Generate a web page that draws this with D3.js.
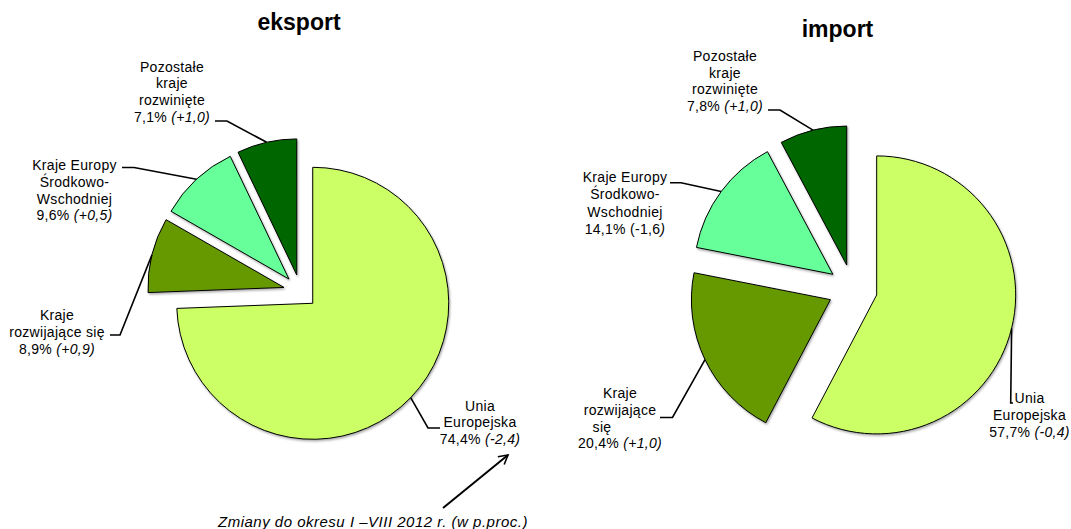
<!DOCTYPE html>
<html>
<head>
<meta charset="utf-8">
<title>eksport / import</title>
<script src="https://d3js.org/d3.v7.min.js"></script>
<style>
	body{ margin:0; background:#fff; }
	text{ font-family: "Liberation Sans", Arial, sans-serif; fill:#000; }
	.lbl{ font-size:14px; letter-spacing:0.3px; }
	.note{ font-size:15px; letter-spacing:0.5px; font-style:italic; }
	.ttl{ font-size:23px; font-weight:bold; }
</style>
</head>
<body>
<script>
	// data
	var categories = ["Unia Europejska", "Kraje rozwijające się", "Kraje Europy Środkowo-Wschodniej", "Pozostałe kraje rozwinięte"]
	var eksportShare  = [74.4, 8.9, 9.6, 7.1]
	var eksportChange = ["-2,4", "+0,9", "+0,5", "+1,0"]
	var importShare   = [57.7, 20.4, 14.1, 7.8]
	var importChange  = ["-0,4", "+1,0", "-1,6", "+1,0"]
	var colors = ["#CCFF66", "#669900", "#66FF99", "#006600"]
	var note = "Zmiany do okresu I –VIII 2012 r. (w p.proc.)"

	// label wrapping and placement for each chart (layout only)
	var eksportLabels = [
		{lines:["Unia","Europejska"], x:480, y:410.5, lead:[[440,428],[428,428]]},
		{lines:["Kraje","rozwijające się"], x:57, y:320, lead:[[110,335],[120,335]]},
		{lines:["Kraje Europy","Środkowo-","Wschodniej"], x:74.5, y:170, lead:[[122,167.5],[134,167.5]]},
		{lines:["Pozostałe","kraje","rozwinięte"], x:172, y:71.5, lead:[[215,121],[227,121]]}
	]
	var importLabels = [
		{lines:["Unia","Europejska"], x:1029.5, y:403.3, lead:[[1013,403],[1010.7,403]]},
		{lines:["Kraje","rozwijające","się"], x:620, y:398, lineX:{2:602}, lead:[[660,417.5],[672.5,417.5]]},
		{lines:["Kraje Europy","Środkowo-","Wschodniej"], x:625, y:181.5, lh:17.5, lead:[[670,182.7],[681,182.7]]},
		{lines:["Pozostałe","kraje","rozwinięte"], x:725, y:60.7, lead:[[768,110],[780,110]]}
	]

	var charts = [
		{title:"eksport", tx:299, ty:30, cx:300.5, cy:291.5, r:136, off:17, values:eksportShare, changes:eksportChange, labels:eksportLabels},
		{title:"import",  tx:837.5, ty:36.5, cx:852.7, cy:289, r:139, off:24.7, values:importShare, changes:importChange, labels:importLabels}
	]

	var W = 1071, H = 529
	var svg = d3.select("body").append("svg").attr("width", W).attr("height", H)

	var defs = svg.append("defs")
	defs.append("filter").attr("id","shadow").attr("x","-10%").attr("y","-10%").attr("width","130%").attr("height","130%")
		.append("feDropShadow").attr("dx",1).attr("dy",1.5).attr("stdDeviation",1).attr("flood-color","#000").attr("flood-opacity",0.35)
	defs.append("marker").attr("id","arrow").attr("viewBox","0 0 12 12").attr("refX",10).attr("refY",6)
		.attr("markerWidth",6).attr("markerHeight",6).attr("markerUnits","strokeWidth").attr("orient","auto")
		.append("path").attr("d","M1,1 L10,6 L1,11").attr("fill","none").attr("stroke","#000").attr("stroke-width",1.6)

	var fmt = function(v){ return d3.format(".1f")(v).replace(".", ",") }
	var pie = d3.pie().sort(null).value(function(d){ return d })

	charts.forEach(function(ch){
		var arcs = pie(ch.values)
		var arc = d3.arc().innerRadius(0).outerRadius(ch.r)
		var g = svg.append("g").attr("transform","translate("+ch.cx+","+ch.cy+")")

		svg.append("text").attr("class","ttl").attr("x",ch.tx).attr("y",ch.ty).attr("text-anchor","middle").text(ch.title)

		arcs.forEach(function(a, i){
			var mid = (a.startAngle + a.endAngle)/2
			var dx = Math.sin(mid)*ch.off, dy = -Math.cos(mid)*ch.off
			g.append("path").attr("d", arc(a)).attr("transform","translate("+dx+","+dy+")")
				.attr("fill", colors[i]).attr("stroke","#000").attr("stroke-width",1)
				.attr("stroke-linejoin","round").attr("filter","url(#shadow)")

			// leader line: label end -> elbow -> middle of the slice's arc
			var lab = ch.labels[i]
			var ex = ch.cx + dx + Math.sin(mid)*ch.r
			var ey = ch.cy + dy - Math.cos(mid)*ch.r
			var pts = lab.lead.concat([[ex, ey]])
			svg.append("path").attr("d", d3.line()(pts)).attr("fill","none").attr("stroke","#000").attr("stroke-width",1.6)

			var lh = lab.lh || 16.8
			var t = svg.append("text").attr("class","lbl").attr("text-anchor","middle")
			lab.lines.forEach(function(s, k){
				var x = (lab.lineX && lab.lineX[k] != null) ? lab.lineX[k] : lab.x
				t.append("tspan").attr("x", x).attr("y", lab.y + k*lh).text(s)
			})
			var last = t.append("tspan").attr("x", lab.x).attr("y", lab.y + lab.lines.length*lh)
			last.text(fmt(ch.values[i]) + "% ")
			if(ch.changes[i] == "-1,6"){
				last.append("tspan").text("(" + ch.changes[i])
				last.append("tspan").attr("font-style","italic").text(")")
			}else{
				last.append("tspan").attr("font-style","italic").text("(" + ch.changes[i] + ")")
			}
		})
	})

	// note with arrow pointing at the change value
	svg.append("line").attr("x1",443).attr("y1",508).attr("x2",508).attr("y2",455)
		.attr("stroke","#000").attr("stroke-width",2).attr("marker-end","url(#arrow)")
	svg.append("text").attr("class","note").attr("x",218).attr("y",527).text(note)
</script>
</body>
</html>
